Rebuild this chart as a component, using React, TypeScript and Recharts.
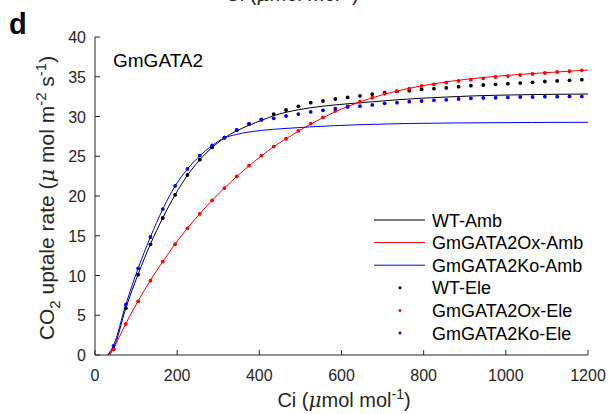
import { ComposedChart, Line, Scatter, XAxis, YAxis } from 'recharts'

// Elevated CO2 measurements (dots)
const eleCi = [
  45, 75, 105, 135, 165, 195, 225, 255, 285, 315, 345, 375, 405, 435, 465, 495, 525, 555, 585, 615,
  645, 675, 705, 735, 765, 795, 825, 855, 885, 915, 945, 975, 1005, 1035, 1065, 1095, 1125, 1155, 1185,
]
const wtEle = [
  0.72, 5.87, 10.1, 13.92, 17.23, 20.13, 22.64, 24.57, 26.13, 27.33, 28.26, 29.06, 29.65, 30.31, 30.82,
  31.28, 31.74, 31.95, 32.2, 32.4, 32.6, 32.8, 33.0, 33.15, 33.25, 33.4, 33.5, 33.6, 33.75, 33.88, 33.96,
  34.05, 34.13, 34.2, 34.3, 34.4, 34.47, 34.55, 34.63,
]
const oxEle = [
  0.72, 3.9, 6.75, 9.35, 11.74, 13.93, 15.94, 17.74, 19.46, 21.0, 22.48, 23.81, 25.07, 26.22, 27.2, 28.2,
  29.1, 29.9, 30.7, 31.3, 31.86, 32.36, 32.85, 33.2, 33.5, 33.84, 34.05, 34.25, 34.47, 34.63, 34.8, 34.97,
  35.09, 35.22, 35.35, 35.47, 35.6, 35.69, 35.81,
]
const koEle = [
  1.15, 6.33, 10.9, 14.84, 18.36, 21.26, 23.4, 25.07, 26.35, 27.33, 28.3, 29.06, 29.56, 29.77, 30.06,
  30.31, 30.57, 30.78, 30.98, 31.19, 31.3, 31.45, 31.66, 31.74, 31.86, 31.95, 32.03, 32.1, 32.2, 32.29,
  32.33, 32.36, 32.4, 32.45, 32.45, 32.5, 32.5, 32.53, 32.53,
]

// Ambient CO2 fitted curves (lines)
const wtAmbCi = [
  31, 45, 75, 105, 135, 165, 195, 225, 255, 285, 315, 345, 375, 405, 435, 495, 555, 615, 675, 735, 795,
  855, 915, 975, 1035, 1095, 1155, 1200,
]
const wtAmb = [
  0, 0.85, 5.9, 10.15, 13.95, 17.25, 20.15, 22.6, 24.55, 26.1, 27.3, 28.2, 28.9, 29.5, 30.1, 30.85, 31.3,
  31.6, 31.85, 32.1, 32.3, 32.45, 32.58, 32.67, 32.73, 32.78, 32.81, 32.83,
]
const oxAmbCi = [
  36, 45, 75, 105, 135, 165, 195, 225, 255, 285, 315, 345, 375, 405, 435, 465, 495, 525, 555, 585, 615,
  675, 735, 795, 855, 915, 975, 1035, 1095, 1155, 1200,
]
const oxAmb = [
  0, 0.8, 3.95, 6.8, 9.4, 11.75, 13.95, 15.95, 17.75, 19.45, 21.0, 22.45, 23.8, 25.05, 26.2, 27.2, 28.15,
  29.05, 29.85, 30.6, 31.25, 32.35, 33.2, 33.85, 34.35, 34.75, 35.05, 35.3, 35.5, 35.7, 35.85,
]
const koAmbCi = [
  31, 45, 75, 105, 135, 165, 195, 225, 255, 285, 315, 345, 375, 405, 465, 525, 585, 645, 705, 765, 825,
  885, 945, 1005, 1065, 1125, 1200,
]
const koAmb = [
  0, 1.2, 6.35, 10.9, 14.85, 18.35, 21.25, 23.4, 25.05, 26.35, 27.3, 27.75, 28.05, 28.25, 28.5, 28.7,
  28.85, 28.97, 29.05, 29.12, 29.16, 29.19, 29.21, 29.23, 29.25, 29.26, 29.27,
]

const xTicks = [0, 200, 400, 600, 800, 1000, 1200]
const yTicks = [0, 5, 10, 15, 20, 25, 30, 35, 40]

const legendItems = [
  { name: 'WT-Amb', color: '#000000', kind: 'line' },
  { name: 'GmGATA2Ox-Amb', color: '#ff0000', kind: 'line' },
  { name: 'GmGATA2Ko-Amb', color: '#0000ff', kind: 'line' },
  { name: 'WT-Ele', color: '#000000', kind: 'dot' },
  { name: 'GmGATA2Ox-Ele', color: '#ff0000', kind: 'dot' },
  { name: 'GmGATA2Ko-Ele', color: '#0000ff', kind: 'dot' },
]

const font = "Arial, 'Liberation Sans', sans-serif"
const muFont = "'DejaVu Serif', serif"
const axisColor = '#262626'
const tickLen = 5

const toPoints = (xs: number[], ys: number[]) => xs.map((x, i) => ({ x, y: ys[i] }))

function BottomTick({ x, y, payload }: any) {
  return (
    <g>
      <line x1={x} y1={y} x2={x} y2={y - tickLen} stroke={axisColor} />
      <text x={x} y={y + 26} textAnchor="middle" fontSize={16} fill="#262626" fontFamily={font}>
        {payload.value}
      </text>
    </g>
  )
}

function LeftTick({ x, y, payload }: any) {
  return (
    <g>
      <line x1={x} y1={y} x2={x + tickLen} y2={y} stroke={axisColor} />
      <text x={x - 9} y={y + 6} textAnchor="end" fontSize={16} fill="#262626" fontFamily={font}>
        {payload.value}
      </text>
    </g>
  )
}

function TopTick({ x, y }: any) {
  return <line x1={x} y1={y} x2={x} y2={y + tickLen} stroke={axisColor} />
}

function RightTick({ x, y }: any) {
  return <line x1={x} y1={y} x2={x - tickLen} y2={y} stroke={axisColor} />
}

const dotShape = (color: string) => (props: any) => (
  <circle cx={props.cx} cy={props.cy} r={1.9} fill={color} />
)

function CiLabel({ x, y }: { x: number; y: number }) {
  return (
    <text x={x} y={y} textAnchor="middle" fontSize={20}>
      Ci (<tspan fontStyle="italic" fontFamily={muFont}>μ</tspan>mol mol
      <tspan dy={-8} fontSize={14}>-1</tspan>
      <tspan dy={8}>)</tspan>
    </text>
  )
}

export default function App() {
  return (
    <div style={{ position: 'absolute', left: 0, top: 0, width: 611, height: 414, background: '#fff' }}>
      <ComposedChart width={611} height={414} margin={{ top: 37, right: 23, bottom: 0, left: 0 }}>
        <XAxis
          xAxisId="bottom"
          dataKey="x"
          type="number"
          domain={[0, 1200]}
          ticks={xTicks}
          height={59}
          tickSize={0}
          tickMargin={0}
          tickLine={false}
          stroke={axisColor}
          tick={<BottomTick />}
          interval={0}
        />
        <XAxis
          xAxisId="top"
          orientation="top"
          type="number"
          domain={[0, 1200]}
          ticks={xTicks}
          height={0}
          tickSize={0}
          tickMargin={0}
          tickLine={false}
          stroke={axisColor}
          tick={<TopTick />}
          interval={0}
        />
        <YAxis
          yAxisId="left"
          type="number"
          domain={[0, 40]}
          ticks={yTicks}
          width={95}
          tickSize={0}
          tickMargin={0}
          tickLine={false}
          stroke={axisColor}
          tick={<LeftTick />}
          interval={0}
        />
        <YAxis
          yAxisId="right"
          orientation="right"
          type="number"
          domain={[0, 40]}
          ticks={yTicks}
          width={0}
          tickSize={0}
          tickMargin={0}
          tickLine={false}
          stroke={axisColor}
          tick={<RightTick />}
          interval={0}
        />
        <Line
          xAxisId="bottom"
          yAxisId="left"
          data={toPoints(wtAmbCi, wtAmb)}
          dataKey="y"
          type="monotone"
          stroke="#000000"
          strokeWidth={1}
          dot={false}
          isAnimationActive={false}
        />
        <Line
          xAxisId="bottom"
          yAxisId="left"
          data={toPoints(oxAmbCi, oxAmb)}
          dataKey="y"
          type="monotone"
          stroke="#ff0000"
          strokeWidth={1}
          dot={false}
          isAnimationActive={false}
        />
        <Line
          xAxisId="bottom"
          yAxisId="left"
          data={toPoints(koAmbCi, koAmb)}
          dataKey="y"
          type="monotone"
          stroke="#0000ff"
          strokeWidth={1}
          dot={false}
          isAnimationActive={false}
        />
        <Scatter
          xAxisId="bottom"
          yAxisId="left"
          data={toPoints(eleCi, wtEle)}
          dataKey="y"
          shape={dotShape('#000000')}
          isAnimationActive={false}
        />
        <Scatter
          xAxisId="bottom"
          yAxisId="left"
          data={toPoints(eleCi, oxEle)}
          dataKey="y"
          shape={dotShape('#ff0000')}
          isAnimationActive={false}
        />
        <Scatter
          xAxisId="bottom"
          yAxisId="left"
          data={toPoints(eleCi, koEle)}
          dataKey="y"
          shape={dotShape('#0000ff')}
          isAnimationActive={false}
        />
      </ComposedChart>

      <svg
        width={611}
        height={414}
        style={{ position: 'absolute', left: 0, top: 0, pointerEvents: 'none' }}
        fontFamily={font}
        fill="#262626"
      >
        {/* bottom of the previous panel's axis title, cut by the frame */}
        <CiLabel x={292} y={1} />
        <text x={9} y={34} fontSize={29} fontWeight="bold" fill="#000">
          d
        </text>
        <text x={113} y={67} fontSize={19} fill="#000">
          GmGATA2
        </text>
        <CiLabel x={344} y={407} />
        <text transform="translate(54 198) rotate(-90)" textAnchor="middle" fontSize={21}>
          CO<tspan dy={6} fontSize={15}>2</tspan>
          <tspan dy={-6}> uptale rate (</tspan>
          <tspan fontStyle="italic" fontFamily={muFont}>μ</tspan>
          <tspan> mol m</tspan>
          <tspan dy={-8} fontSize={15}>-2</tspan>
          <tspan dy={8}> s</tspan>
          <tspan dy={-8} fontSize={15}>-1</tspan>
          <tspan dy={8}>)</tspan>
        </text>
        {legendItems.map((item, i) => {
          const cy = 220 + i * 22.6
          return (
            <g key={item.name}>
              {item.kind === 'line' ? (
                <line x1={374} y1={cy} x2={425} y2={cy} stroke={item.color} strokeWidth={1} />
              ) : (
                <circle cx={400} cy={cy} r={1.5} fill={item.color} />
              )}
              <text x={432} y={cy + 6.5} fontSize={18} fill="#000">
                {item.name}
              </text>
            </g>
          )
        })}
      </svg>
    </div>
  )
}
